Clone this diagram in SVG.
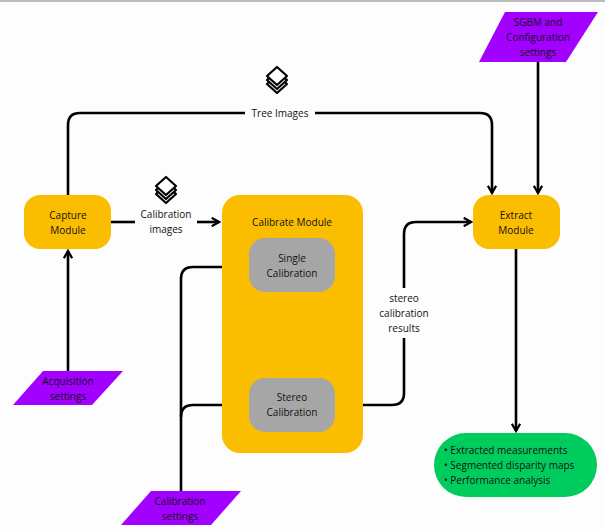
<svg xmlns="http://www.w3.org/2000/svg" width="605" height="530" viewBox="0 0 605 530">
<style>
text{font-family:"Open Sans","Liberation Sans",sans-serif;font-size:10px;fill:#111;text-anchor:middle}
.mod{fill:#fbbd00}
.sub{fill:#a6a6a6}
.inp{fill:#a200ff}
.ln{fill:none;stroke:#000;stroke-width:2.6}
.icon{fill:#fff;stroke:#000;stroke-width:2.2;stroke-linejoin:round}
</style>
<defs>
<marker id="ah" viewBox="0 0 10 10" refX="8" refY="5" markerWidth="4" markerHeight="4" orient="auto"><path d="M1,1 L8,5 L1,9" fill="none" stroke="#000" stroke-width="2.2"/></marker>
<g id="layers"><path class="icon" d="M0,-4 L-10,5 L0,14 L10,5Z"/><path class="icon" d="M0,-8 L-10,1 L0,10 L10,1Z"/><path class="icon" d="M0,-12 L-10,-3 L0,6 L10,-3Z"/></g>
</defs>
<rect width="605" height="530" fill="#fdfdfd"/>
<line x1="0" y1="1" x2="605" y2="1" stroke="#bbb" stroke-width="2"/>
<g id="connectors">
<path class="ln" d="M68,195 V125 Q68,113 80,113 H245 M315,113 H480 Q492,113 492,125 V193" marker-end="url(#ah)"/>
<path class="ln" d="M538,62 V193" marker-end="url(#ah)"/>
<path class="ln" d="M111,222 H135"/>
<path class="ln" d="M197,222 H219" marker-end="url(#ah)"/>
<path class="ln" d="M68,371 V251" marker-end="url(#ah)"/>
<path class="ln" d="M181,491 V279 Q181,267 193,267 H246" marker-end="url(#ah)"/>
<path class="ln" d="M181,417 Q181,405 193,405 H246" marker-end="url(#ah)"/>
<path class="ln" d="M291,292 V307 M291,357 V376" marker-end="url(#ah)"/>
<path class="ln" d="M335,405 H392 Q404,405 404,393 V338 M404,288 V234 Q404,222 416,222 H471" marker-end="url(#ah)"/>
<path class="ln" d="M516,249 V431" marker-end="url(#ah)"/>
</g>
<g id="icons"><use href="#layers" x="277" y="79"/><use href="#layers" x="166" y="189"/></g>
<text x="280" y="117">Tree Images</text>
<g><text x="166" y="218">Calibration</text><text x="166" y="233">images</text></g>
<g transform="translate(291,333) rotate(90)"><text x="0" y="-12">single</text><text x="0" y="3">calibration</text><text x="0" y="18">results</text></g>
<g><text x="404" y="302">stereo</text><text x="404" y="317">calibration</text><text x="404" y="332">results</text></g>
<g id="capture"><rect class="mod" x="24" y="195" width="87" height="54" rx="16"/><text x="68" y="219">Capture</text><text x="68" y="234">Module</text></g>
<g id="calibrate"><rect class="mod" x="222" y="195" width="141" height="258" rx="18"/><text x="292" y="226">Calibrate Module</text></g>
<g id="single"><rect class="sub" x="249" y="238" width="86" height="54" rx="16"/><text x="292" y="262">Single</text><text x="292" y="277">Calibration</text></g>
<g id="stereo"><rect class="sub" x="249" y="378" width="86" height="54" rx="16"/><text x="292" y="401">Stereo</text><text x="292" y="416">Calibration</text></g>
<g id="extract"><rect class="mod" x="473" y="195" width="87" height="54" rx="16"/><text x="516" y="219">Extract</text><text x="516" y="234">Module</text></g>
<g id="sgbm"><polygon class="inp" points="505,12 598,12 566,62 479,62"/><text x="538" y="26">SGBM and</text><text x="538" y="41">Configuration</text><text x="538" y="56">settings</text></g>
<g id="acq"><polygon class="inp" points="43,371 123,371 92,405 13,405"/><text x="68" y="385">Acquisition</text><text x="68" y="400">settings</text></g>
<g id="calset"><polygon class="inp" points="151,491 241,491 211,525 121,525"/><text x="180" y="505">Calibration</text><text x="180" y="520">settings</text></g>
<g id="output"><rect x="434" y="433" width="163" height="64" rx="32" fill="#00cc5e"/>
<g style="text-anchor:start"><text x="444" y="454" style="text-anchor:start">•  Extracted measurements</text><text x="444" y="469" style="text-anchor:start">•  Segmented disparity maps</text><text x="444" y="484" style="text-anchor:start">•  Performance analysis</text></g></g>
</svg>
